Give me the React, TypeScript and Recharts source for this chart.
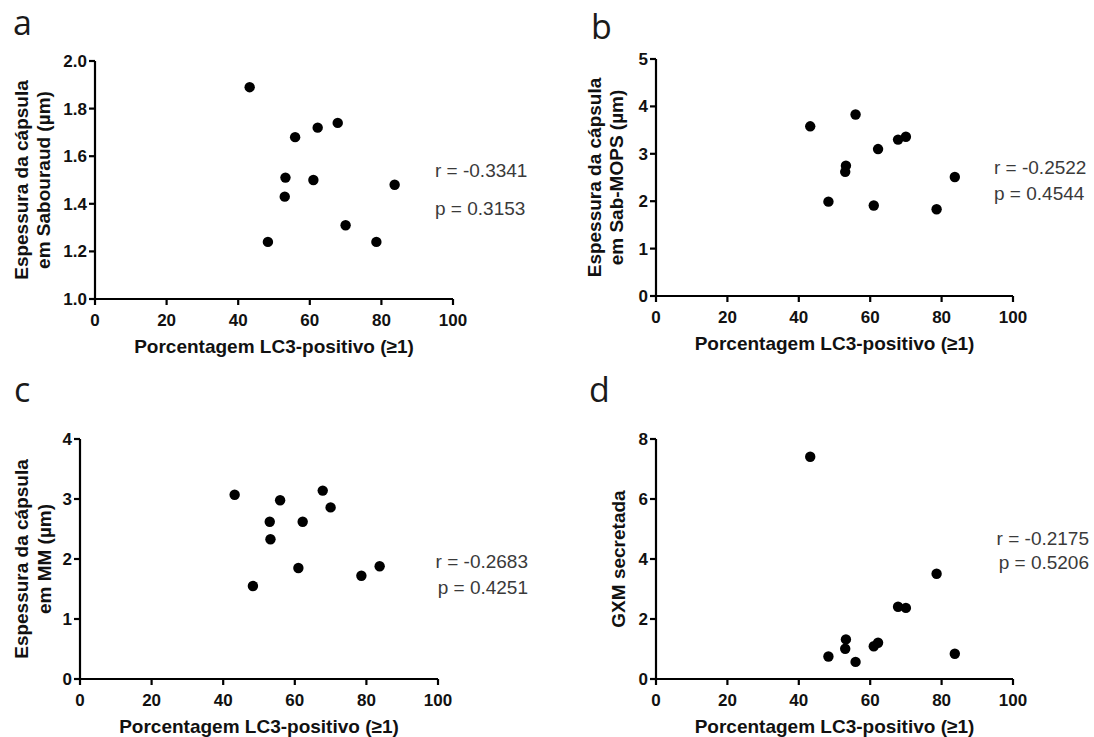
import { ScatterChart, Scatter, XAxis, YAxis } from 'recharts';

// Porcentagem LC3-positivo (≥1), same isolates in every panel
const lc3Pct = [43.2, 48.3, 53.0, 53.2, 55.9, 61.0, 62.2, 67.8, 70.0, 78.6, 83.7];

const capsSabouraud = [1.89, 1.24, 1.43, 1.51, 1.68, 1.5, 1.72, 1.74, 1.31, 1.24, 1.48];
const capsSabMops = [3.58, 1.99, 2.62, 2.75, 3.83, 1.91, 3.1, 3.3, 3.36, 1.83, 2.51];
const capsMM = [3.07, 1.55, 2.62, 2.33, 2.98, 1.85, 2.62, 3.14, 2.86, 1.72, 1.88];
const gxmSecretada = [7.41, 0.75, 1.01, 1.32, 0.57, 1.09, 1.21, 2.41, 2.37, 3.51, 0.84];

const xTicks = [0, 20, 40, 60, 80, 100];
const yTicksA = [1.0, 1.2, 1.4, 1.6, 1.8, 2.0];
const yTicksB = [0, 1, 2, 3, 4, 5];
const yTicksC = [0, 1, 2, 3, 4];
const yTicksD = [0, 2, 4, 6, 8];

const xTitle = 'Porcentagem LC3-positivo (≥1)';

const ARIAL = '"Liberation Sans", Arial, sans-serif';
const INK = '#111';

const toRows = (ys: number[]) => lc3Pct.map((x, i) => ({ x, y: ys[i] }));

type PanelProps = {
  chart: { left: number; top: number; w: number; h: number };
  plot: { left: number; top: number; right: number; bottom: number };
  ys: number[];
  yTicks: number[];
  decimals?: number;
  yTitle: string[];
  yTitleX: number[];
};

const Dot = (p: any) => <circle cx={p.cx} cy={p.cy} r={5.2} fill="#000" />;

function TickLabel(p: any) {
  const isX = p.orientation === 'bottom';
  return (
    <text
      x={p.x}
      y={p.y}
      dy={isX ? '0.71em' : '0.355em'}
      textAnchor={isX ? 'middle' : 'end'}
      style={{ fill: INK, fontSize: 17, fontWeight: 700, fontFamily: ARIAL }}
    >
      {Number(p.payload.value).toFixed(p.decimals ?? 0)}
    </text>
  );
}

function Panel(props: PanelProps) {
  const { chart, plot } = props;
  const margin = {
    top: plot.top - chart.top,
    right: chart.left + chart.w - plot.right,
    bottom: chart.top + chart.h - plot.bottom - 55,
    left: 0,
  };
  const yAxisW = plot.left - chart.left;
  const midY = (plot.top + plot.bottom) / 2 - chart.top;
  const axisStyle = { stroke: '#000', strokeWidth: 2.2 };

  return (
    <div style={{ position: 'absolute', left: chart.left, top: chart.top }}>
      <ScatterChart width={chart.w} height={chart.h} margin={margin}>
        <XAxis
          type="number"
          dataKey="x"
          domain={[0, 100]}
          ticks={xTicks}
          interval={0}
          height={55}
          axisLine={axisStyle}
          tickLine={axisStyle}
          tickSize={6}
          tickMargin={9}
          tick={<TickLabel orientation="bottom" />}
          label={() => (
            <text
              x={(plot.left + plot.right) / 2 - chart.left}
              y={plot.bottom - chart.top + 54}
              textAnchor="middle"
              fill={INK}
              fontSize={19}
              fontWeight="bold"
              fontFamily={ARIAL}
            >
              {xTitle}
            </text>
          )}
        />
        <YAxis
          type="number"
          dataKey="y"
          domain={[props.yTicks[0], props.yTicks[props.yTicks.length - 1]]}
          ticks={props.yTicks}
          interval={0}
          width={yAxisW}
          axisLine={axisStyle}
          tickLine={axisStyle}
          tickSize={6}
          tickMargin={2}
          tick={<TickLabel orientation="left" decimals={props.decimals} />}
          label={() => (
            <g>
              {props.yTitle.map((line, i) => {
                const x = props.yTitleX[i] - chart.left;
                return (
                  <text
                    key={line}
                    x={x}
                    y={midY}
                    transform={`rotate(-90, ${x}, ${midY})`}
                    textAnchor="middle"
                    fill={INK}
                    fontSize={19}
                    fontWeight="bold"
                    fontFamily={ARIAL}
                  >
                    {line}
                  </text>
                );
              })}
            </g>
          )}
        />
        <Scatter data={toRows(props.ys)} shape={Dot} fill="#000" isAnimationActive={false} />
      </ScatterChart>
    </div>
  );
}

const letters = [
  { t: 'a', x: 13, y: 35 },
  { t: 'b', x: 591, y: 39 },
  { t: 'c', x: 14, y: 402 },
  { t: 'd', x: 589, y: 402 },
];

const stats = [
  { t: 'r = -0.3341', x: 435, y: 177, a: 'start' },
  { t: 'p = 0.3153', x: 435, y: 215, a: 'start' },
  { t: 'r = -0.2522', x: 994, y: 174, a: 'start' },
  { t: 'p = 0.4544', x: 994, y: 200, a: 'start' },
  { t: 'r = -0.2683', x: 528, y: 568, a: 'end' },
  { t: 'p = 0.4251', x: 528, y: 594, a: 'end' },
  { t: 'r = -0.2175', x: 1089, y: 545, a: 'end' },
  { t: 'p = 0.5206', x: 1089, y: 569, a: 'end' },
];

export default function App() {
  return (
    <div
      style={{
        position: 'absolute',
        left: 0,
        top: 0,
        width: 1094,
        height: 737,
        overflow: 'hidden',
        background: '#fff',
      }}
    >
      <Panel
        chart={{ left: 0, top: 0, w: 547, h: 370 }}
        plot={{ left: 95, top: 61, right: 453, bottom: 299 }}
        ys={capsSabouraud}
        yTicks={yTicksA}
        decimals={1}
        yTitle={['Espessura da cápsula', 'em Sabouraud (µm)']}
        yTitleX={[28, 50]}
      />
      <Panel
        chart={{ left: 547, top: 0, w: 547, h: 370 }}
        plot={{ left: 656, top: 59, right: 1013, bottom: 296 }}
        ys={capsSabMops}
        yTicks={yTicksB}
        yTitle={['Espessura da cápsula', 'em Sab-MOPS (µm)']}
        yTitleX={[601, 623]}
      />
      <Panel
        chart={{ left: 0, top: 370, w: 547, h: 367 }}
        plot={{ left: 80, top: 439, right: 438, bottom: 679 }}
        ys={capsMM}
        yTicks={yTicksC}
        yTitle={['Espessura da cápsula', 'em MM (µm)']}
        yTitleX={[28, 51]}
      />
      <Panel
        chart={{ left: 547, top: 370, w: 547, h: 367 }}
        plot={{ left: 656, top: 439, right: 1013, bottom: 679 }}
        ys={gxmSecretada}
        yTicks={yTicksD}
        yTitle={['GXM secretada']}
        yTitleX={[625]}
      />
      <svg
        width={1094}
        height={737}
        style={{ position: 'absolute', left: 0, top: 0, pointerEvents: 'none' }}
      >
        {letters.map((l) => (
          <text
            key={l.t}
            x={l.x}
            y={l.y}
            fontSize={34}
            fontFamily='"Open Sans", sans-serif'
            fill="#1a1a1a"
          >
            {l.t}
          </text>
        ))}
        {stats.map((s) => (
          <text
            key={s.t}
            x={s.x}
            y={s.y}
            textAnchor={s.a as 'start' | 'end'}
            fontSize={19}
            fontFamily={ARIAL}
            fill="#3a3a3a"
          >
            {s.t}
          </text>
        ))}
      </svg>
    </div>
  );
}
